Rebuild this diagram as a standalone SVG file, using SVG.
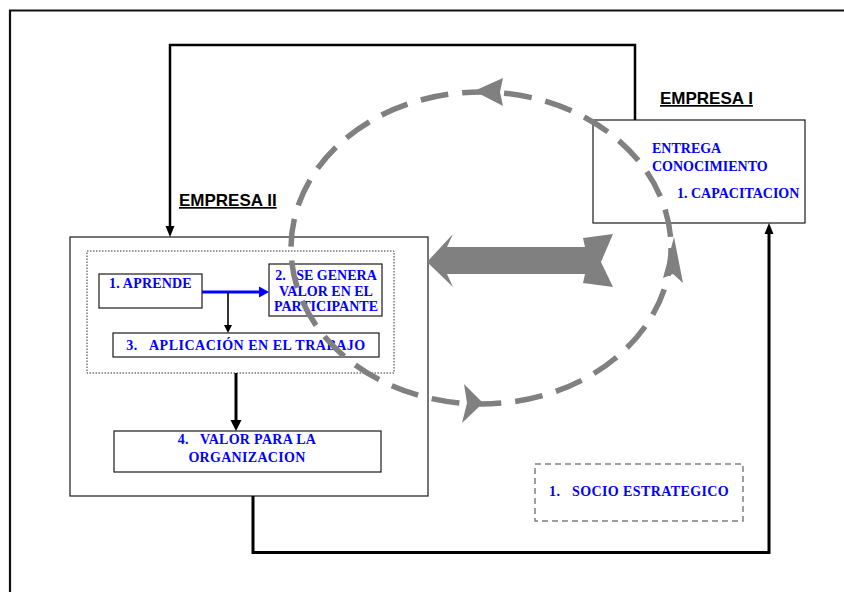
<svg xmlns="http://www.w3.org/2000/svg" width="844" height="592" viewBox="0 0 844 592">
  <style>
    .box { fill: #ffffff; stroke: #1a1a1a; stroke-width: 1.2; }
    .frame { fill: none; stroke: #1a1a1a; stroke-width: 1.2; }
    .lbl { font-family: "Liberation Serif", "Times New Roman", serif; font-weight: bold; font-size: 14px; fill: #0000ff; white-space: pre; }
    .head { font-family: "Liberation Sans", Arial, sans-serif; font-weight: bold; font-size: 17px; fill: #000000; text-decoration: underline; }
    .wire { fill: none; stroke: #000000; }
    .cycle { fill: none; stroke: #808080; stroke-width: 5.5; stroke-dasharray: 28 14; }
    .grey { fill: #808080; }
  </style>

  <rect width="844" height="592" fill="#ffffff"/>

  <!-- page frame (runs off the right and bottom edges) -->
  <path d="M10,600 V10.5 H850" fill="none" stroke="#111111" stroke-width="2.2"/>

  <g id="empresa-i">
    <rect class="box" x="593" y="120" width="212" height="103"/>
    <text class="head" x="660" y="104">EMPRESA I</text>
    <text class="lbl" x="652" y="153" font-size="13.5">ENTREGA</text>
    <text class="lbl" x="652" y="171" font-size="13.5">CONOCIMIENTO</text>
    <text class="lbl" x="677" y="198" font-size="13.5">1. CAPACITACION</text>
  </g>

  <g id="empresa-ii">
    <rect class="frame" x="70" y="237" width="358" height="259"/>
    <text class="head" x="179" y="206">EMPRESA II</text>
    <rect x="87" y="251" width="307" height="122" fill="none" stroke="#333333" stroke-width="1" stroke-dasharray="1.5 1.5"/>
  </g>

  <g id="aprende">
    <rect class="box" x="99" y="274" width="103" height="34"/>
    <text class="lbl" x="109" y="288" letter-spacing="0.2">1. APRENDE</text>
  </g>

  <g id="genera-valor">
    <rect class="box" x="269" y="264" width="113" height="52"/>
    <text class="lbl" x="326" y="280" text-anchor="middle">2.   SE GENERA</text>
    <text class="lbl" x="326" y="296" text-anchor="middle">VALOR EN EL</text>
    <text class="lbl" x="326" y="311" text-anchor="middle">PARTICIPANTE</text>
  </g>

  <g id="aplicacion">
    <rect class="box" x="113" y="333" width="266" height="24"/>
    <text class="lbl" x="246" y="350" text-anchor="middle" letter-spacing="0.5">3.   APLICACIÓN EN EL TRABAJO</text>
  </g>

  <g id="valor-organizacion">
    <rect class="box" x="114" y="431" width="267" height="41"/>
    <text class="lbl" x="247" y="444" text-anchor="middle" letter-spacing="0.3">4.   VALOR PARA LA</text>
    <text class="lbl" x="247" y="462" text-anchor="middle" letter-spacing="0.3">ORGANIZACION</text>
  </g>

  <g id="socio">
    <rect x="535" y="464" width="208" height="57" fill="none" stroke="#808080" stroke-width="1.5" stroke-dasharray="6 4"/>
    <text class="lbl" x="549" y="496" letter-spacing="0.4">1.   SOCIO ESTRATEGICO</text>
  </g>

  <!-- connectors -->
  <g id="connectors">
    <path class="wire" d="M635,120 V45 H170 V228" stroke-width="2.5"/>
    <polygon points="170,237 165.5,226 174.5,226" fill="#000"/>
    <path class="wire" d="M253,496 V552.5 H769 V232" stroke-width="3"/>
    <polygon points="769,223 764.5,234 773.5,234" fill="#000"/>
    <line x1="202" y1="292" x2="261" y2="292" stroke="#0000ff" stroke-width="3.2"/>
    <polygon points="269,292 259,286.5 259,297.5" fill="#0000ff"/>
    <line class="wire" x1="228" y1="292" x2="228" y2="326" stroke-width="1.6"/>
    <polygon points="228,333 224,325 232,325" fill="#000"/>
    <line class="wire" x1="236" y1="373" x2="236" y2="422" stroke-width="3"/>
    <polygon points="236,431 230.5,420 241.5,420" fill="#000"/>
    <!-- two-way exchange arrow -->
    <polygon class="grey" points="427,262 453,234 447,247 585,247 583,238 613,234 601,262 613,287 583,283 585,274 447,274 453,287"/>
  </g>

  <!-- dashed knowledge cycle, drawn over the boxes it crosses -->
  <g id="cycle">
    <ellipse class="cycle" cx="481" cy="248" rx="190" ry="156"/>
    <polygon class="grey" points="474,91 503,78 500,92 503,106"/>
    <polygon class="grey" points="483,403 464,384 467,403 462,423"/>
    <polygon class="grey" points="674,237 683,283 673,274 663,278"/>
  </g>
</svg>
